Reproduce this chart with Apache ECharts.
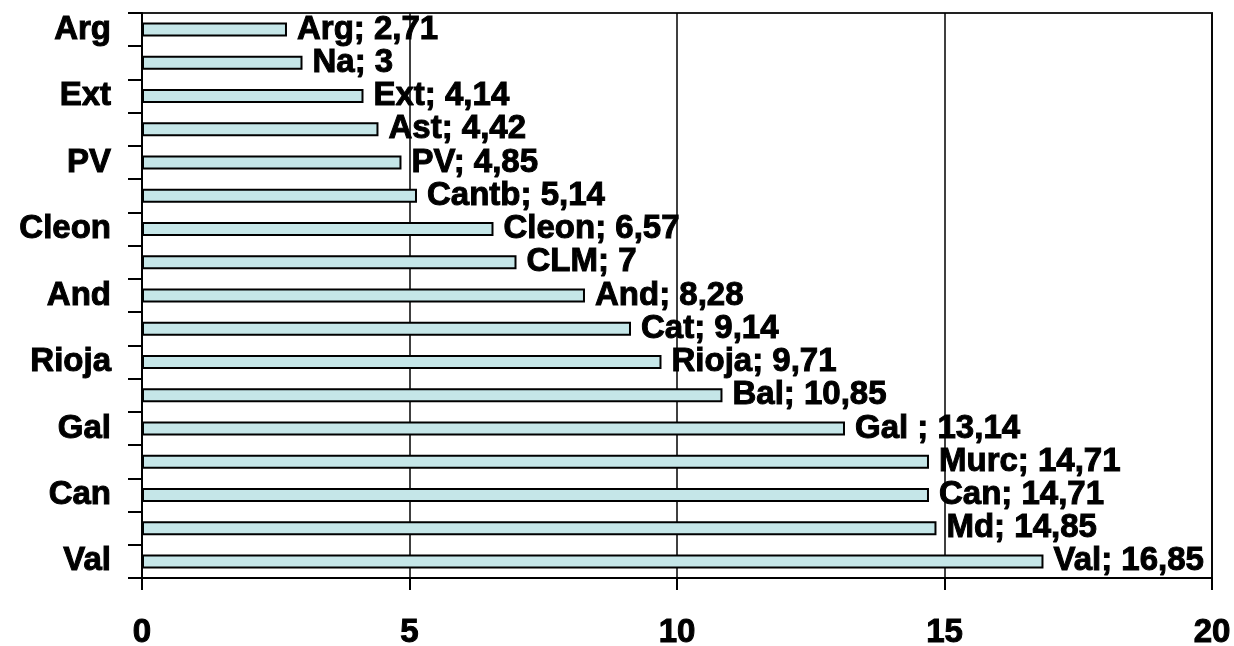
<!DOCTYPE html>
<html>
<head>
<meta charset="utf-8">
<script src="https://cdn.jsdelivr.net/npm/echarts@6/dist/echarts.min.js"></script>
<style>
  html, body { margin: 0; padding: 0; background: #fff; }
  #chart { width: 1234px; height: 646px; }
</style>
</head>
<body>
<div id="chart"></div>
<script>
// bottom to top
const regions = ['Val', 'Md', 'Can', 'Murc', 'Gal', 'Bal', 'Rioja', 'Cat', 'And', 'CLM',
  'Cleon', 'Cantb', 'PV', 'Ast', 'Ext', 'Na', 'Arg'];
const labelNames = ['Val', 'Md', 'Can', 'Murc', 'Gal ', 'Bal', 'Rioja', 'Cat', 'And', 'CLM',
  'Cleon', 'Cantb', 'PV', 'Ast', 'Ext', 'Na', 'Arg'];
const values = [16.85, 14.85, 14.71, 14.71, 13.14, 10.85, 9.71, 9.14, 8.28, 7,
  6.57, 5.14, 4.85, 4.42, 4.14, 3, 2.71];

const font = 'Liberation Sans';
// heavy text like the original
const heavy = { color: '#000', fontFamily: font, fontWeight: 'bold', fontSize: 33,
  textBorderColor: '#000', textBorderWidth: 1 };

const chart = echarts.init(document.getElementById('chart'));
chart.setOption({
  animation: false,
  grid: {
    left: 142, right: 22, top: 13, bottom: 68,
    outerBoundsMode: 'none',
    show: true, borderColor: '#222', borderWidth: 2
  },
  xAxis: {
    type: 'value',
    min: 0, max: 20, interval: 5,
    axisLine: { show: true, lineStyle: { color: '#000', width: 2 } },
    axisTick: { show: true, length: 12, lineStyle: { color: '#000', width: 2 } },
    axisLabel: Object.assign({ margin: 38 }, heavy),
    splitLine: { show: true, lineStyle: { color: '#000', width: 1.5 } }
  },
  yAxis: {
    type: 'category',
    data: regions,
    axisLine: { show: true, lineStyle: { color: '#000', width: 2 } },
    axisTick: { show: true, interval: 0, length: 14, lineStyle: { color: '#000', width: 2 } },
    axisLabel: Object.assign({ interval: 1, margin: 31 }, heavy)
  },
  series: [{
    type: 'bar',
    data: values,
    barWidth: 14,
    itemStyle: { color: '#c5e6e8', borderColor: '#000', borderWidth: 2 },
    label: Object.assign({
      show: true,
      position: 'right',
      distance: 10,
      formatter: p => labelNames[p.dataIndex] + '; ' + String(p.value).replace('.', ',')
    }, heavy)
  }]
});
</script>
</body>
</html>
